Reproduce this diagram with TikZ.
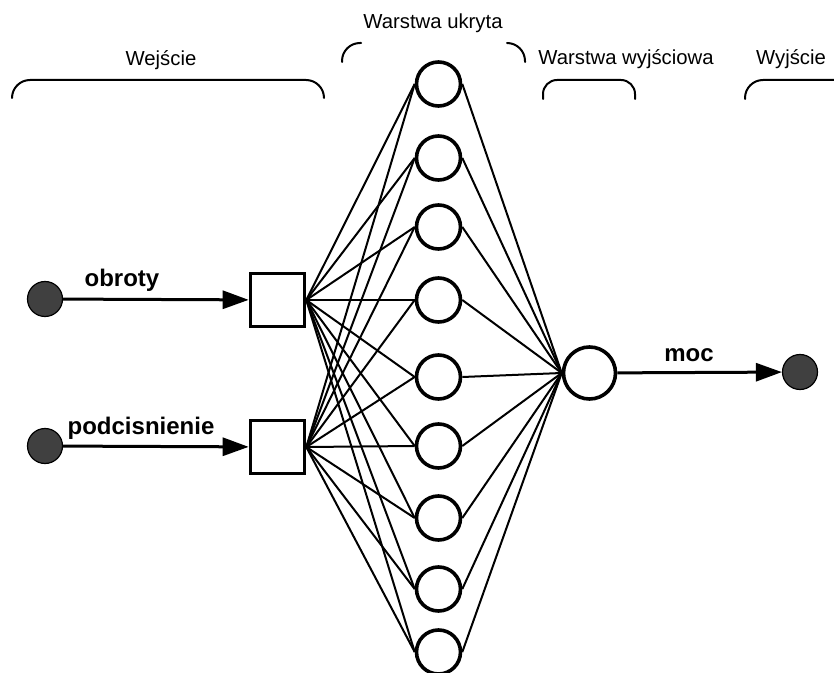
\documentclass[tikz,border=0pt]{standalone}
\usepackage{fontspec}
\setmainfont{Liberation Sans}
\usetikzlibrary{arrows.meta}

\definecolor{dotgray}{HTML}{404040}

\tikzset{
    neuron/.style={circle, draw, line width=1.8pt, fill=white, minimum size=22pt, inner sep=0pt},
    outneuron/.style={neuron, minimum size=26pt},
    inbox/.style={rectangle, draw, line width=1.8pt, fill=white, minimum width=27pt, minimum height=26.5pt, inner sep=0pt},
    terminal/.style={circle, draw, fill=dotgray, line width=0.6pt, minimum size=17.5pt, inner sep=0pt},
    link/.style={line width=1pt},
    signal/.style={line width=1.5pt, -{Triangle[length=13pt,width=9pt]}},
    brace/.style={line width=1pt, line cap=round},
    caption/.style={font=\fontsize{10.15pt}{12pt}\selectfont, anchor=base, inner sep=0pt},
    signame/.style={font=\fontsize{12pt}{14pt}\selectfont\bfseries, anchor=base, inner sep=0pt}
}

\begin{document}
\begin{tikzpicture}[x=0.5pt, y=-0.5pt]
    \useasboundingbox (0,0) rectangle (834,673);

    % Layer captions
    \node[caption] (capin) at (161, 66) {Wejście};
    \node[caption] (caphid) at (433, 29) {Warstwa ukryta};
    \node[caption] (capout) at (626, 65) {Warstwa wyjściowa};
    \node[caption] (capy) at (791, 65) {Wyjście};

    % Brackets over the layers
    \draw[brace, rounded corners=9pt] (12,98) -- (12,80) -- (324,80) -- (324,98);
    \draw[brace, rounded corners=9pt] (342,62) -- (342,43) -- (361,43);
    \draw[brace, rounded corners=9pt] (507,43) -- (525,43) -- (525,62);
    \draw[brace, rounded corners=7pt] (543,99) -- (543,80) -- (635,80) -- (635,99);
    \draw[brace, rounded corners=9pt] (745,99) -- (745,80) -- (834,80);

    % Sources and input layer
    \node[terminal] (s1) at (45, 299) {};
    \node[terminal] (s2) at (45, 446) {};
    \node[inbox] (in1) at (277.5, 300) {};
    \node[inbox] (in2) at (277.5, 447) {};

    % Hidden layer
    \node[neuron] (h1) at (438.5, 84) {};
    \node[neuron] (h2) at (438.5, 158) {};
    \node[neuron] (h3) at (438.5, 227) {};
    \node[neuron] (h4) at (438.5, 300) {};
    \node[neuron] (h5) at (438.5, 377) {};
    \node[neuron] (h6) at (438.5, 446) {};
    \node[neuron] (h7) at (438.5, 518) {};
    \node[neuron] (h8) at (438.5, 589) {};
    \node[neuron] (h9) at (438.5, 652) {};

    % Output layer and sink
    \node[outneuron] (out) at (589.5, 373) {};
    \node[terminal] (y1) at (800, 372) {};

    % Weights
    \foreach \h in {1,...,9} {
        \draw[link] (in1.east) -- (h\h.west);
        \draw[link] (in2.east) -- (h\h.west);
        \draw[link] (h\h.east) -- (out.west);
    }

    % Signals
    \draw[signal] (s1) -- (in1);
    \draw[signal] (s2) -- (in2);
    \draw[signal] (out) -- (y1);

    \node[signame] (lobroty) at (122, 287) {obroty};
    \node[signame] (lpodc) at (141, 434) {podcisnienie};
    \node[signame] (lmoc) at (689, 361) {moc};
\end{tikzpicture}
\end{document}
